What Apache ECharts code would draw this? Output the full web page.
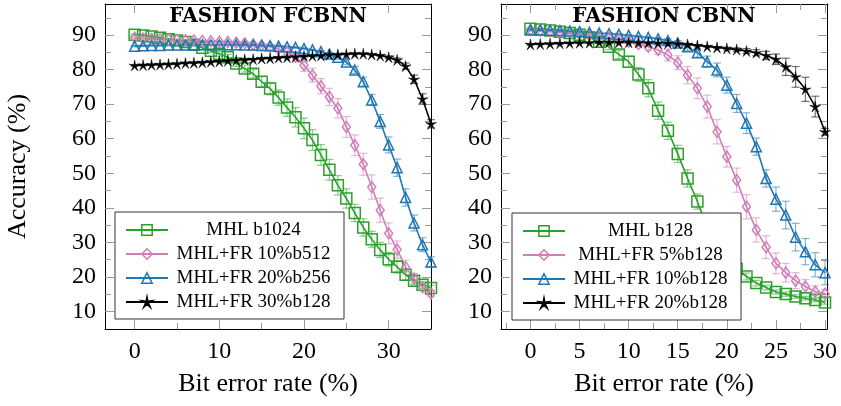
<!DOCTYPE html>
<html><head><meta charset="utf-8">
<script src="https://cdn.jsdelivr.net/npm/echarts@6/dist/echarts.min.js"></script>
<style>html,body{margin:0;padding:0;background:#fff}#c{width:841px;height:406px}</style>
</head><body><div id="c"></div>
<script>
// ---------- data ----------
const titles = ['FASHION FCBNN', 'FASHION CBNN'];
const xName = 'Bit error rate (%)';
const yName = 'Accuracy (%)';

// left panel (FCBNN)
const berLeft = [0,1,2,3,4,5,6,7,8,9,10,11,12,13,14,15,16,17,18,19,20,21,22,23,24,25,26,27,28,29,30,31,32,33,34,35];
const namesLeft = ['MHL b1024', 'MHL+FR 10%b512', 'MHL+FR 20%b256', 'MHL+FR 30%b128'];
const fcMHL = [90.1,89.9,89.6,89.2,88.8,88.4,88.0,87.2,86.3,85.5,84.6,83.6,81.8,80.3,78.8,76.5,74.5,71.9,69.0,66.2,63.0,59.6,55.3,51.0,46.5,42.7,38.5,34.3,30.9,27.8,25.1,22.9,20.6,18.9,17.7,16.8];
const fcMHLerr = [0.3,0.3,0.3,0.3,0.3,0.4,0.4,0.5,0.5,0.6,0.7,0.8,0.9,1.0,1.2,1.5,1.8,2.2,2.5,2.8,3.0,3.0,3.0,3.0,2.8,2.8,2.5,2.5,2.3,2.2,2.0,1.8,1.5,1.2,1.0,0.8];
const fcFR10 = [89.2,89.0,88.9,88.8,88.7,88.6,88.5,88.4,88.3,88.2,88.1,88.0,87.8,87.6,87.3,87.0,86.6,86.0,85.1,83.7,81.3,78.4,75.2,72.1,68.8,63.4,58.1,52.6,46.0,39.3,32.6,27.9,22.8,19.5,17.0,15.2];
const fcFR10err = [0.2,0.2,0.2,0.2,0.2,0.2,0.2,0.2,0.2,0.2,0.2,0.2,0.3,0.4,0.5,0.6,0.8,1.0,1.2,1.5,1.8,2.0,2.2,2.5,2.8,3.0,3.0,3.2,3.5,3.5,3.0,2.5,2.0,1.5,1.0,0.8];
const fcFR20 = [86.8,86.9,87.0,87.0,87.1,87.1,87.1,87.2,87.2,87.2,87.2,87.2,87.2,87.1,87.1,87.0,86.9,86.8,86.6,86.4,86.1,85.7,85.2,84.5,83.6,82.2,79.9,76.5,71.2,65.0,58.2,51.6,43.0,35.6,29.3,24.3];
const fcFR20err = [0.2,0.2,0.2,0.2,0.2,0.2,0.2,0.2,0.2,0.2,0.2,0.2,0.2,0.2,0.2,0.2,0.2,0.2,0.2,0.2,0.2,0.2,0.3,0.4,0.6,0.8,1.0,1.3,1.6,2.0,2.3,2.5,2.5,2.3,2.0,1.5];
const fcFR30 = [81.2,81.3,81.4,81.5,81.6,81.7,81.9,82.0,82.1,82.3,82.4,82.6,82.7,82.9,83.0,83.2,83.3,83.5,83.6,83.7,83.9,84.0,84.1,84.3,84.4,84.5,84.6,84.6,84.4,84.1,83.6,82.8,81.0,77.2,71.5,64.3];
const fcFR30err = [0.2,0.2,0.2,0.2,0.2,0.2,0.2,0.2,0.2,0.2,0.2,0.2,0.2,0.2,0.2,0.2,0.2,0.2,0.2,0.2,0.2,0.2,0.2,0.2,0.2,0.2,0.2,0.2,0.2,0.2,0.4,0.6,0.9,1.2,1.5,1.2];

// right panel (CBNN)
const berRight = [0,1,2,3,4,5,6,7,8,9,10,11,12,13,14,15,16,17,18,19,20,21,22,23,24,25,26,27,28,29,30];
const namesRight = ['MHL b128', 'MHL+FR 5%b128', 'MHL+FR 10%b128', 'MHL+FR 20%b128'];
const cbMHL = [91.8,91.6,91.3,91.0,90.6,90.1,89.3,88.1,86.6,84.4,82.3,78.6,74.6,68.1,62.3,55.6,48.5,41.8,34.5,28.5,24.8,22.3,20.1,18.2,16.9,15.6,15.0,14.3,13.8,13.3,12.6];
const cbMHLerr = [0.3,0.3,0.3,0.3,0.3,0.3,0.3,0.5,0.8,1.2,1.6,2.0,2.5,2.5,2.5,2.5,2.5,2.2,2.0,1.8,1.5,1.2,1.0,0.8,0.7,0.6,0.6,0.5,0.5,0.5,0.5];
const cbFR5 = [91.5,91.3,91.1,90.9,90.6,90.3,90.0,89.6,89.2,88.7,88.1,87.4,86.6,85.7,84.2,82.0,78.4,74.6,69.3,62.0,54.8,48.0,40.3,33.6,28.6,23.9,21.2,18.9,17.2,15.7,15.1];
const cbFR5err = [0.3,0.3,0.3,0.3,0.3,0.3,0.3,0.3,0.3,0.3,0.5,0.7,1.0,1.3,1.7,2.0,2.5,3.0,3.3,3.5,3.0,3.5,3.5,3.5,3.3,3.0,2.7,2.3,2.0,1.7,1.3];
const cbFR10 = [91.5,91.5,91.4,91.3,91.2,91.0,90.8,90.6,90.4,90.2,89.9,89.6,89.3,88.9,88.4,87.7,86.6,84.9,82.3,79.9,75.5,70.2,64.5,57.7,48.5,42.5,37.9,31.5,27.3,23.5,21.2];
const cbFR10err = [0.3,0.3,0.3,0.3,0.3,0.3,0.3,0.3,0.3,0.3,0.3,0.3,0.3,0.3,0.5,0.7,1.0,1.3,1.6,2.0,2.3,2.6,3.0,2.5,2.5,3.5,4.0,4.0,3.8,3.5,3.5];
const cbFR20 = [87.3,87.4,87.5,87.6,87.7,87.8,87.8,87.9,87.9,87.9,87.9,87.8,87.8,87.7,87.6,87.5,87.3,87.0,86.7,86.4,86.1,85.8,85.4,84.9,84.1,83.0,80.8,77.9,74.3,69.3,62.0];
const cbFR20err = [0.2,0.2,0.2,0.2,0.2,0.2,0.2,0.2,0.2,0.2,0.2,0.2,0.2,0.2,0.2,0.2,0.2,0.2,0.2,0.2,0.4,0.5,0.7,0.9,1.2,1.5,2.5,3.0,3.5,3.0,1.0];

// ticks
const xMajorLeft = [0,10,20,30];
const xMinorLeft = [5,15,25];
const xMajorRight = [0,5,10,15,20,25,30];
const xMinorRight = [-2.5,2.5,7.5,12.5,17.5,22.5,27.5];
const yMajor = [10,20,30,40,50,60,70,80,90];
const yMinor = [15,25,35,45,55,65,75,85,95];

// ---------- styling ----------
const SERIF = '"Liberation Serif","Times New Roman",serif';
const TICK = '#9a9a9a';
const colors = ['#2ca02c', '#d07eb8', '#1f77b4', '#000000'];
const STAR = 'path://M0,-1L0.16,-0.22L0.951,-0.309L0.26,0.085L0.588,0.809L0,0.27L-0.588,0.809L-0.26,0.085L-0.951,-0.309L-0.16,-0.22Z';
const symbols = ['rect', 'diamond', 'triangle', STAR];
const symSizes = [11, [8, 11], 10, 11];

const grids = [
  {left: 105, top: 4, width: 326, height: 325},
  {left: 501, top: 4, width: 326, height: 325}
];
const xRanges = [[-3.5, 35], [-3, 30.2]];
const yRange = [4.9, 99];

function tick(vals, len) {
  return {show: true, inside: true, length: len, customValues: vals, lineStyle: {color: TICK, width: 1}};
}
const xAxes = [], yAxes = [];
[[xMajorLeft, xMinorLeft], [xMajorRight, xMinorRight]].forEach(([maj, mn], gi) => {
  const base = {type: 'value', gridIndex: gi, min: xRanges[gi][0], max: xRanges[gi][1],
    splitLine: {show: false}, axisLabel: {show: false}, axisLine: {show: false, onZero: false}};
  xAxes.push(Object.assign({}, base, {position: 'bottom',
    axisLine: {show: true, onZero: false, lineStyle: {color: '#000', width: 1}},
    axisTick: tick(maj, 9),
    axisLabel: {show: true, customValues: maj, margin: 11, color: '#000', fontFamily: SERIF, fontSize: 24},
    name: xName, nameLocation: 'middle', nameGap: 42,
    nameTextStyle: {color: '#000', fontFamily: SERIF, fontSize: 26}}));
  xAxes.push(Object.assign({}, base, {position: 'bottom', axisTick: tick(mn, 6)}));
  xAxes.push(Object.assign({}, base, {position: 'top',
    axisLine: {show: true, onZero: false, lineStyle: {color: '#000', width: 1}}, axisTick: tick(maj, 9)}));
  xAxes.push(Object.assign({}, base, {position: 'top', axisTick: tick(mn, 6)}));

  const ybase = {type: 'value', gridIndex: gi, min: yRange[0], max: yRange[1],
    splitLine: {show: false}, axisLabel: {show: false}, axisLine: {show: false, onZero: false}};
  const yMain = Object.assign({}, ybase, {position: 'left',
    axisLine: {show: true, onZero: false, lineStyle: {color: '#000', width: 1}},
    axisTick: tick(yMajor, 9),
    axisLabel: {show: true, customValues: yMajor, margin: 9, color: '#000', fontFamily: SERIF, fontSize: 24}});
  if (gi === 0) Object.assign(yMain, {name: yName, nameLocation: 'middle', nameGap: 74,
    nameTextStyle: {color: '#000', fontFamily: SERIF, fontSize: 26}});
  yAxes.push(yMain);
  yAxes.push(Object.assign({}, ybase, {position: 'left', axisTick: tick(yMinor, 6)}));
  yAxes.push(Object.assign({}, ybase, {position: 'right',
    axisLine: {show: true, onZero: false, lineStyle: {color: '#000', width: 1}}, axisTick: tick(yMajor, 9)}));
  yAxes.push(Object.assign({}, ybase, {position: 'right', axisTick: tick(yMinor, 6)}));
});

const panels = [
  {x: berLeft, names: namesLeft, vals: [fcMHL, fcFR10, fcFR20, fcFR30], errs: [fcMHLerr, fcFR10err, fcFR20err, fcFR30err]},
  {x: berRight, names: namesRight, vals: [cbMHL, cbFR5, cbFR10, cbFR20], errs: [cbMHLerr, cbFR5err, cbFR10err, cbFR20err]}
];

const series = [];
panels.forEach((p, gi) => {
  p.vals.forEach((v, si) => {
    const col = colors[si];
    series.push({
      type: 'custom', name: 'err' + gi + si, xAxisIndex: gi * 4, yAxisIndex: gi * 4,
      silent: true, z: 1,
      data: p.x.map((x, i) => [x, v[i], p.errs[si][i]]),
      encode: {x: 0, y: 1},
      renderItem: function (params, api) {
        const x = api.value(0), y = api.value(1), e = api.value(2);
        const a = api.coord([x, y + e]), b = api.coord([x, y - e]);
        const st = {stroke: col, lineWidth: 1.2, opacity: 0.55};
        return {type: 'group', children: [
          {type: 'line', shape: {x1: a[0], y1: a[1], x2: b[0], y2: b[1]}, style: st},
          {type: 'line', shape: {x1: a[0] - 4, y1: a[1], x2: a[0] + 4, y2: a[1]}, style: st},
          {type: 'line', shape: {x1: b[0] - 4, y1: b[1], x2: b[0] + 4, y2: b[1]}, style: st}
        ]};
      }
    });
    const isStar = si === 3;
    series.push({
      type: 'line', name: p.names[si], xAxisIndex: gi * 4, yAxisIndex: gi * 4, z: 3,
      data: p.x.map((x, i) => [x, v[i]]),
      symbol: symbols[si], symbolSize: symSizes[si], showSymbol: true,
      lineStyle: {color: col, width: 1.6},
      itemStyle: isStar ? {color: col, borderColor: col, borderWidth: 0.5}
                        : {color: 'rgba(255,255,255,0)', borderColor: col, borderWidth: 1.5},
      emphasis: {disabled: true}
    });
  });
});

function legendFor(names, left, top) {
  return {
    orient: 'vertical', left: left, top: top, data: names, selectedMode: false,
    padding: [8, 10, 7, 10], itemGap: 4, itemWidth: 42, itemHeight: 13,
    backgroundColor: '#fff', borderColor: '#333', borderWidth: 1, borderRadius: 0,
    itemStyle: {borderWidth: 1.5},
    formatter: '{c|{name}}',
    textStyle: {color: '#000', fontFamily: SERIF, fontSize: 19, lineHeight: 20,
      rich: {c: {width: 161, align: 'center', color: '#000', fontFamily: SERIF, fontSize: 19, lineHeight: 20}}},
    z: 10
  };
}

const option = {
  animation: false,
  backgroundColor: '#fff',
  title: titles.map((t, i) => ({
    text: t, left: grids[i].left + grids[i].width / 2, top: 7, textAlign: 'center', padding: 0,
    textStyle: {fontFamily: '"DejaVu Serif",serif', fontWeight: 'bold', fontSize: 20, color: '#000'}
  })),
  grid: grids.map(g => Object.assign({containLabel: false, outerBoundsMode: 'none'}, g)),
  xAxis: xAxes,
  yAxis: yAxes,
  legend: [legendFor(namesLeft, 115, 212), legendFor(namesRight, 512, 213)],
  series: series
};
const chart = echarts.init(document.getElementById('c'), null, {renderer: 'canvas'});
chart.setOption(option);
</script>
</body></html>
